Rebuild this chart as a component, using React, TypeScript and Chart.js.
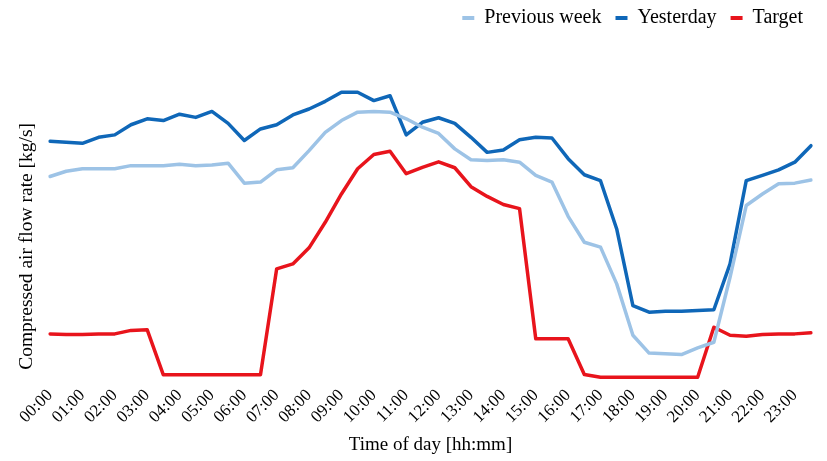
import React, { useEffect, useRef } from 'react';
import { Chart, registerables } from 'chart.js';

Chart.register(...registerables);

const timeLabels = [
  '00:00', '00:30', '01:00', '01:30', '02:00', '02:30', '03:00', '03:30',
  '04:00', '04:30', '05:00', '05:30', '06:00', '06:30', '07:00', '07:30',
  '08:00', '08:30', '09:00', '09:30', '10:00', '10:30', '11:00', '11:30',
  '12:00', '12:30', '13:00', '13:30', '14:00', '14:30', '15:00', '15:30',
  '16:00', '16:30', '17:00', '17:30', '18:00', '18:30', '19:00', '19:30',
  '20:00', '20:30', '21:00', '21:30', '22:00', '22:30', '23:00', '23:30',
];

const previousWeek = [
  5.83, 5.98, 6.05, 6.05, 6.05, 6.14, 6.14, 6.14,
  6.18, 6.14, 6.16, 6.21, 5.64, 5.67, 6.02, 6.08,
  6.57, 7.09, 7.43, 7.67, 7.69, 7.67, 7.48, 7.24,
  7.06, 6.62, 6.31, 6.29, 6.31, 6.24, 5.86, 5.67,
  4.69, 3.95, 3.81, 2.76, 1.29, 0.78, 0.76, 0.74,
  0.93, 1.09, 2.95, 5.0, 5.33, 5.62, 5.64, 5.73,
];

const yesterday = [
  6.84, 6.81, 6.78, 6.95, 7.02, 7.31, 7.48, 7.43,
  7.61, 7.52, 7.69, 7.35, 6.86, 7.19, 7.31, 7.59,
  7.76, 7.98, 8.24, 8.24, 8.0, 8.14, 7.02, 7.38,
  7.51, 7.35, 6.95, 6.52, 6.59, 6.88, 6.95, 6.93,
  6.34, 5.88, 5.71, 4.33, 2.14, 1.95, 1.98, 1.98,
  2.0, 2.02, 3.33, 5.71, 5.86, 6.02, 6.24, 6.71,
];

const target = [
  1.33, 1.31, 1.31, 1.33, 1.33, 1.43, 1.45, 0.16,
  0.16, 0.16, 0.16, 0.16, 0.16, 0.16, 3.19, 3.33,
  3.79, 4.52, 5.33, 6.05, 6.46, 6.55, 5.91, 6.09,
  6.25, 6.08, 5.54, 5.26, 5.03, 4.91, 1.19, 1.19,
  1.19, 0.17, 0.09, 0.09, 0.09, 0.09, 0.09, 0.09,
  0.09, 1.52, 1.29, 1.26, 1.31, 1.33, 1.33, 1.36,
];

const seriesNames = ['Previous week', 'Yesterday', 'Target'];
const seriesColors = ['#9DC3E6', '#0F67B8', '#E8141C'];
const xTitle = 'Time of day [hh:mm]';
const yTitle = 'Compressed air flow rate [kg/s]';

const FONT = "'Liberation Serif', 'Times New Roman', serif";

// Draws the y-axis title beside the plot (centred lower than the plot centre, as in the reference)
const yTitlePlugin = {
  id: 'yTitleBeside',
  afterDraw(chart: any) {
    const { ctx, chartArea } = chart;
    ctx.save();
    ctx.font = `19.5px ${FONT}`;
    ctx.fillStyle = '#000';
    ctx.textAlign = 'center';
    ctx.textBaseline = 'middle';
    ctx.translate(27, chartArea.bottom - 134);
    ctx.rotate(-Math.PI / 2);
    ctx.fillText(yTitle, 0, 0);
    ctx.restore();
  },
};

export default function App() {
  const canvasRef = useRef<HTMLCanvasElement | null>(null);

  useEffect(() => {
    if (!canvasRef.current) return;
    const seriesData = [previousWeek, yesterday, target];
    const chart = new Chart(canvasRef.current, {
      type: 'line',
      data: {
        labels: timeLabels,
        datasets: seriesNames.map((name, i) => ({
          label: name,
          data: seriesData[i],
          borderColor: seriesColors[i],
          backgroundColor: seriesColors[i],
          borderWidth: 3.5,
          pointRadius: 0,
          tension: 0,
          borderJoinStyle: 'round' as const,
          borderCapStyle: 'round' as const,
          yAxisID: 'y',
        })),
      },
      plugins: [yTitlePlugin],
      options: {
        animation: false,
        responsive: true,
        maintainAspectRatio: false,
        layout: { padding: { left: 0, right: 10, top: -6, bottom: 5 } },
        plugins: {
          tooltip: { enabled: false },
          legend: {
            position: 'top',
            align: 'end',
            labels: {
              color: '#000',
              font: { family: FONT, size: 20 },
              boxWidth: 12,
              boxHeight: 4,
              padding: 14,
              generateLabels: (c: any) =>
                Chart.defaults.plugins.legend.labels
                  .generateLabels(c)
                  .map((l: any) => ({ ...l, lineWidth: 0 })),
            },
          },
        },
        scales: {
          x: {
            grid: { display: false, tickLength: 5 },
            border: { display: false },
            ticks: {
              autoSkip: false,
              maxRotation: 45,
              minRotation: 45,
              color: '#000',
              padding: 0,
              font: { family: FONT, size: 17 },
              callback: (_v: any, i: number) => (i % 2 === 0 ? timeLabels[i] : ''),
            },
            title: {
              display: true,
              text: xTitle,
              color: '#000',
              font: { family: FONT, size: 19 },
              padding: { top: 6, bottom: 0 },
            },
          },
          y: {
            position: 'left',
            min: 0,
            max: 9.79,
            grid: { display: false },
            border: { display: false },
            ticks: { display: false },
            title: { display: false },
            afterFit: (s: any) => {
              s.width = 50;
            },
          },
          yRightGap: {
            type: 'linear',
            position: 'right',
            min: 0,
            max: 1,
            grid: { display: false },
            border: { display: false },
            ticks: { display: false },
            title: { display: false },
            afterFit: (s: any) => {
              s.width = 6;
            },
          },
        },
      },
    });
    return () => chart.destroy();
  }, []);

  return (
    <div style={{ position: 'fixed', left: 0, top: 0, width: 827, height: 461, background: '#fff' }}>
      <canvas ref={canvasRef} />
    </div>
  );
}
